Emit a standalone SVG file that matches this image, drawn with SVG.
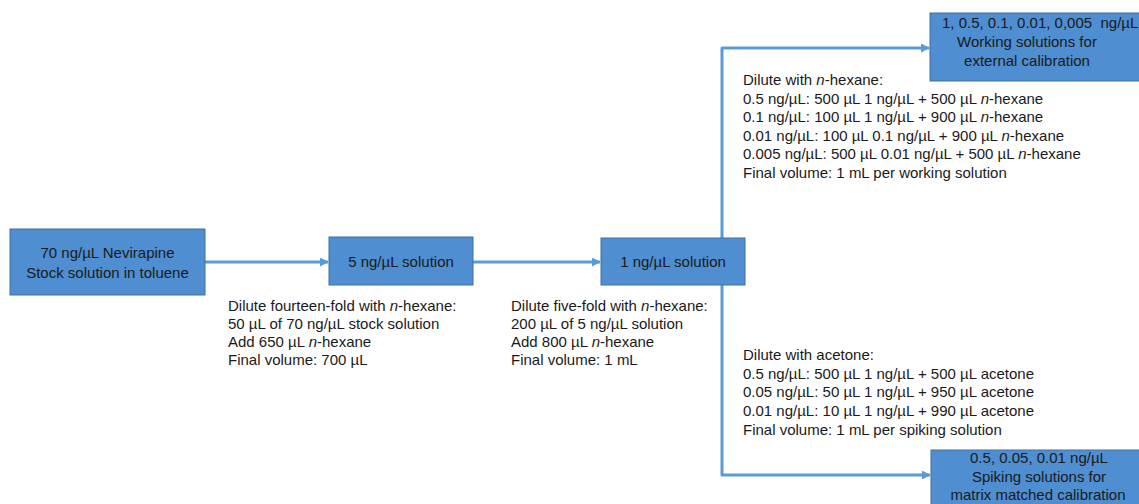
<svg xmlns="http://www.w3.org/2000/svg" width="1139" height="504" viewBox="0 0 1139 504">
<style>
.box{fill:#4F8ED0;stroke:#41719C;stroke-width:1}
.bt{font-family:"Liberation Sans",Arial,sans-serif;font-size:15px;fill:#1a1a1a;text-anchor:middle}
.t{font-family:"Liberation Sans",Arial,sans-serif;font-size:15px;fill:#1a1a1a}
.c{fill:none;stroke:#5B9BD5;stroke-width:3;stroke-linejoin:round}
</style>
<defs>
<marker id="ah" viewBox="0 0 10 10" refX="9" refY="5" markerWidth="3" markerHeight="3" orient="auto" markerUnits="strokeWidth">
<path d="M0,0 L10,5 L0,10 z" fill="#5B9BD5"/>
</marker>
</defs>
<rect width="1139" height="504" fill="#ffffff"/>
<g id="connectors">
<line class="c" x1="205" y1="262" x2="328" y2="262" marker-end="url(#ah)"/>
<line class="c" x1="473" y1="262" x2="600" y2="262" marker-end="url(#ah)"/>
<path class="c" d="M722,238 V48 H929" marker-end="url(#ah)"/>
<path class="c" d="M722,285 V475 H930" marker-end="url(#ah)"/>
</g>
<g id="stock">
<rect class="box" x="10" y="229" width="195" height="66"/>
<text class="bt" x="107.5" y="258">70 ng/µL Nevirapine</text>
<text class="bt" x="107.5" y="278">Stock solution in toluene</text>
</g>
<g id="sol5">
<rect class="box" x="329" y="237" width="144" height="48"/>
<text class="bt" x="401" y="267">5 ng/µL solution</text>
</g>
<g id="sol1">
<rect class="box" x="601" y="238" width="144" height="47"/>
<text class="bt" x="673" y="267">1 ng/µL solution</text>
</g>
<g id="working">
<rect class="box" x="930" y="13" width="215" height="68"/>
<text class="t" x="942" y="28" xml:space="preserve" style="white-space:pre">1, 0.5, 0.1, 0.01, 0,005  ng/µL</text>
<text class="bt" x="1027" y="47">Working solutions for</text>
<text class="bt" x="1027" y="66">external calibration</text>
</g>
<g id="spiking">
<rect class="box" x="931" y="450" width="215" height="60"/>
<text class="bt" x="1039" y="463">0.5, 0.05, 0.01 ng/µL</text>
<text class="bt" x="1039" y="482">Spiking solutions for</text>
<text class="bt" x="1038" y="500">matrix matched calibration</text>
</g>
<g id="label-step1">
<text class="t" x="228" y="311">Dilute fourteen-fold with <tspan font-style="italic">n</tspan>-hexane:</text>
<text class="t" x="228" y="329">50 µL of 70 ng/µL stock solution</text>
<text class="t" x="228" y="347">Add 650 µL <tspan font-style="italic">n</tspan>-hexane</text>
<text class="t" x="228" y="365">Final volume: 700 µL</text>
</g>
<g id="label-step2">
<text class="t" x="511" y="311">Dilute five-fold with <tspan font-style="italic">n</tspan>-hexane:</text>
<text class="t" x="511" y="329">200 µL of 5 ng/µL solution</text>
<text class="t" x="511" y="347">Add 800 µL <tspan font-style="italic">n</tspan>-hexane</text>
<text class="t" x="511" y="365">Final volume: 1 mL</text>
</g>
<g id="label-working">
<text class="t" x="743" y="85">Dilute with <tspan font-style="italic">n</tspan>-hexane:</text>
<text class="t" x="743" y="104">0.5 ng/µL: 500 µL 1 ng/µL + 500 µL <tspan font-style="italic">n</tspan>-hexane</text>
<text class="t" x="743" y="122">0.1 ng/µL: 100 µL 1 ng/µL + 900 µL <tspan font-style="italic">n</tspan>-hexane</text>
<text class="t" x="743" y="141">0.01 ng/µL: 100 µL 0.1 ng/µL + 900 µL <tspan font-style="italic">n</tspan>-hexane</text>
<text class="t" x="743" y="159">0.005 ng/µL: 500 µL 0.01 ng/µL + 500 µL <tspan font-style="italic">n</tspan>-hexane</text>
<text class="t" x="743" y="178">Final volume: 1 mL per working solution</text>
</g>
<g id="label-spiking">
<text class="t" x="743" y="360">Dilute with acetone:</text>
<text class="t" x="743" y="379">0.5 ng/µL: 500 µL 1 ng/µL + 500 µL acetone</text>
<text class="t" x="743" y="397">0.05 ng/µL: 50 µL 1 ng/µL + 950 µL acetone</text>
<text class="t" x="743" y="416">0.01 ng/µL: 10 µL 1 ng/µL + 990 µL acetone</text>
<text class="t" x="743" y="435">Final volume: 1 mL per spiking solution</text>
</g>
</svg>
